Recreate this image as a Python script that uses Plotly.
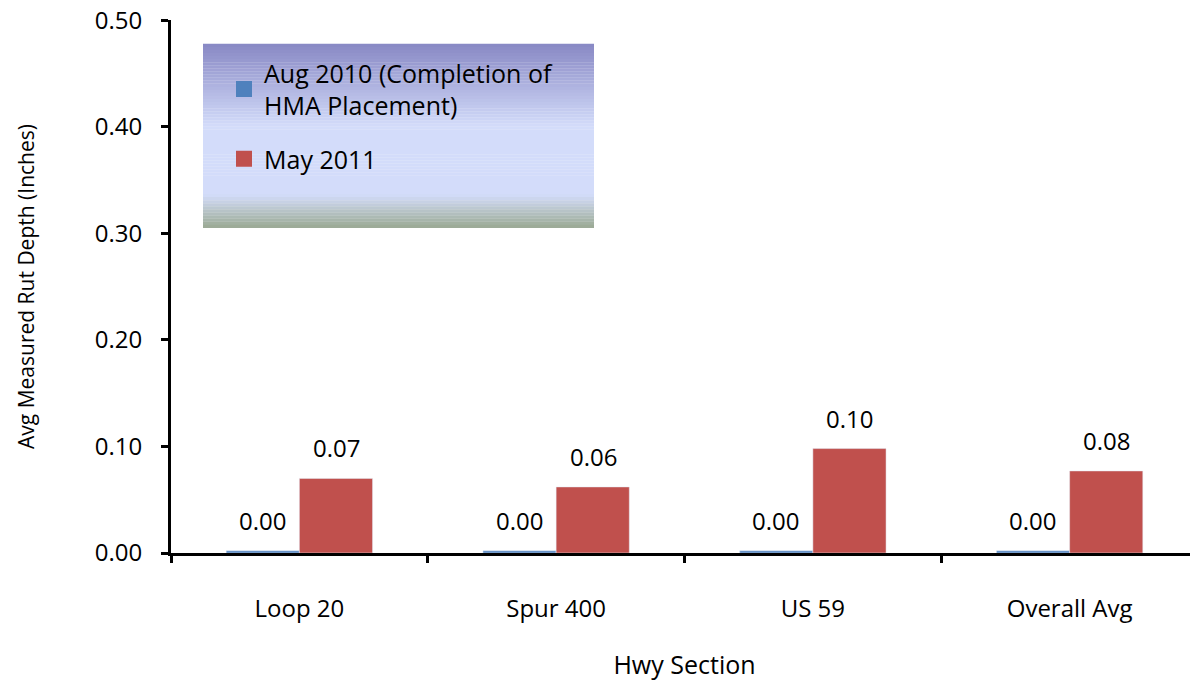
import plotly.graph_objects as go

# data
sections = ["Loop 20", "Spur 400", "US 59", "Overall Avg"]
aug_2010 = [0.002, 0.002, 0.002, 0.002]
may_2011 = [0.070, 0.062, 0.098, 0.077]
series_names = ["Aug 2010 (Completion of<br>HMA Placement)", "May 2011"]
y_ticks = [0.0, 0.1, 0.2, 0.3, 0.4, 0.5]

BLUE = "#4F81BD"
RED = "#C0504D"
FONT = "Open Sans"

# the page body has an 8px margin, so the figure is drawn 8px in from the corner
W, H = 1190, 673
L, T, B = 163, 12, 128
PLOT_W, PLOT_H = W - L, H - T - B


def lerp_color(stops, t):
    """Interpolate an rgb colour from a list of (pos, (r, g, b)) stops."""
    for (p0, c0), (p1, c1) in zip(stops, stops[1:]):
        if p0 <= t <= p1:
            f = 0 if p1 == p0 else (t - p0) / (p1 - p0)
            r, g, b = (round(a + (b_ - a) * f) for a, b_ in zip(c0, c1))
            return f"rgb({r},{g},{b})"
    return f"rgb{stops[-1][1]}"


def px_x(x):
    return (x - 8 - L) / PLOT_W


def px_y(y):
    return (T + PLOT_H - (y - 8)) / PLOT_H


fig = go.Figure()
fig.add_trace(go.Bar(x=sections, y=aug_2010, name=series_names[0], marker_color=BLUE, showlegend=False))
fig.add_trace(go.Bar(x=sections, y=may_2011, name=series_names[1], marker_color=RED, showlegend=False))
# legend entries with larger square swatches
for i, (name, color) in enumerate(zip(series_names, (BLUE, RED))):
    fig.add_trace(go.Scatter(
        x=[None], y=[None], mode="markers", name=name, legendgroup=f"g{i}",
        marker=dict(symbol="square", size=17, color=color),
    ))

# value labels above the bars
annotations = []
for vals, shift in ((aug_2010, -37), (may_2011, 37)):
    for cat, v in zip(sections, vals):
        annotations.append(dict(
            x=cat, y=v, xref="x", yref="y", text=f"{v:.2f}", showarrow=False,
            xshift=shift, yshift=12, yanchor="bottom",
            font=dict(family=FONT, size=24, color="black"),
        ))

# gradient box behind the legend
stops = [(0.0, (136, 136, 196)), (0.45, (211, 220, 250)), (0.82, (211, 220, 250)), (1.0, (154, 169, 147))]
x0, x1 = px_x(203), px_x(594)
ytop, ybot = px_y(44), px_y(228)
n = 60
shapes = []
for i in range(n):
    a = ytop - (ytop - ybot) * i / n
    b = ytop - (ytop - ybot) * (i + 1) / n
    shapes.append(dict(
        type="rect", xref="paper", yref="paper", x0=x0, x1=x1, y0=b, y1=a + 0.0005,
        fillcolor=lerp_color(stops, (i + 0.5) / n), line_width=0, layer="above",
    ))

fig.update_layout(
    width=W, height=H,
    margin=dict(l=L, r=0, t=T, b=B, autoexpand=False),
    paper_bgcolor="white", plot_bgcolor="white",
    barmode="group", bargap=0.43, bargroupgap=0,
    font=dict(family=FONT, size=24, color="black"),
    showlegend=True,
    legend=dict(
        x=px_x(224), y=px_y(50), xanchor="left", yanchor="top",
        bgcolor="rgba(0,0,0,0)", font=dict(family=FONT, size=25, color="black"),
        tracegroupgap=18,
    ),
    annotations=annotations,
    shapes=shapes,
)
fig.update_xaxes(
    showline=True, linecolor="black", linewidth=3,
    ticks="outside", tickson="boundaries", ticklen=7, tickwidth=3, tickcolor="black",
    ticklabelstandoff=32,
    title=dict(text="Hwy Section", font=dict(family=FONT, size=25), standoff=36),
    showgrid=False,
)
fig.update_yaxes(
    range=[0, 0.5002], tickvals=y_ticks, tickformat=".2f",
    showline=True, linecolor="black", linewidth=3,
    ticks="outside", ticklen=7, tickwidth=3, tickcolor="black",
    ticklabelstandoff=14, ticklabeloverflow="allow",
    title=dict(text="Avg Measured Rut Depth (Inches)", font=dict(family=FONT, size=21), standoff=55),
    showgrid=False, zeroline=False,
)

fig.write_html("out.html")
